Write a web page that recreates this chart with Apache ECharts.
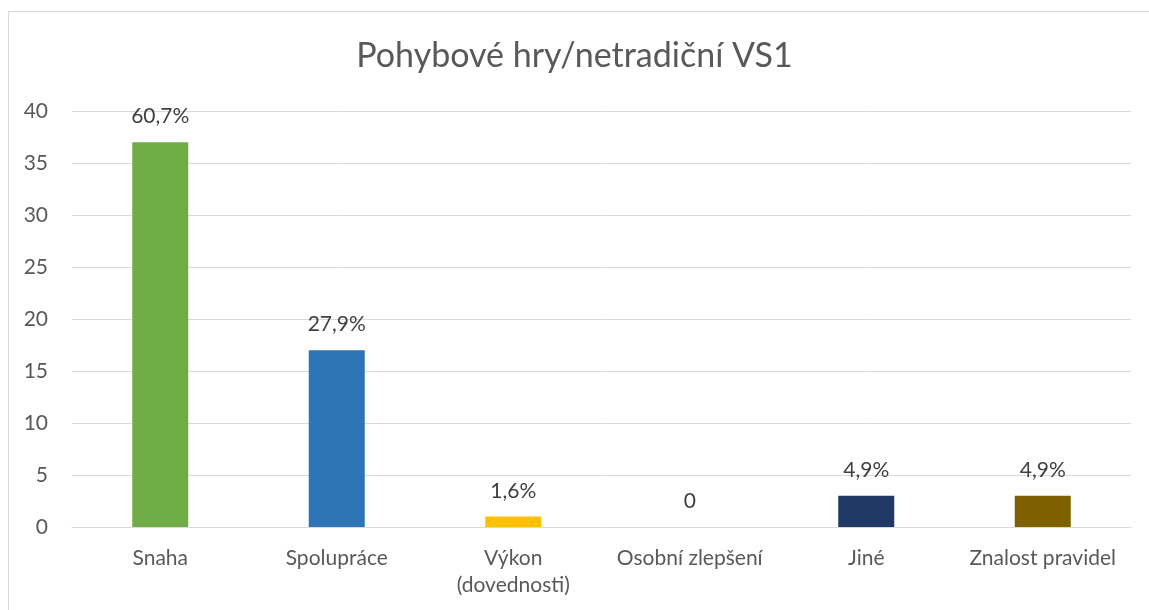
<!DOCTYPE html>
<html>
<head>
<meta charset="utf-8">
<script src="https://cdn.jsdelivr.net/npm/echarts@6/dist/echarts.min.js"></script>
<style>
  html, body { margin: 0; padding: 0; background: #fff; }
  #frame { position: absolute; left: 8px; top: 11px; width: 1160px; height: 620px; border: 1px solid #d9d9d9; box-sizing: border-box; }
  #chart { position: absolute; left: 0; top: 0; width: 1149px; height: 610px; }
</style>
</head>
<body>
<div id="frame"></div>
<div id="chart"></div>
<script>
// data
var categories = ['Snaha', 'Spolupráce', 'Výkon\n(dovednosti)', 'Osobní zlepšení', 'Jiné', 'Znalost pravidel'];
var counts = [37, 17, 1, 0, 3, 3];
var pctLabels = ['60,7%', '27,9%', '1,6%', '0', '4,9%', '4,9%'];
var barColors = ['#70AD47', '#2E75B6', '#FFC000', '#FFFFFF', '#1F3864', '#7F6000'];

document.addEventListener('DOMContentLoaded', function() {
  var myChart = echarts.init(document.getElementById('chart'));
  var font = 'Lato, "Open Sans", sans-serif';
  var option = {
    animation: false,
    title: {
      text: 'Pohybové hry/netradiční VS1',
      left: 'center',
      top: 34,
      textStyle: { fontFamily: font, fontSize: 34, fontWeight: 'normal', color: '#595959' }
    },
    grid: { left: 72, right: 18, top: 111, bottom: 83 },
    xAxis: {
      type: 'category',
      data: categories,
      axisLine: { lineStyle: { color: '#d9d9d9', width: 1 } },
      axisTick: { show: false },
      axisLabel: { fontFamily: font, fontSize: 21, color: '#595959', margin: 18, lineHeight: 27, interval: 0 }
    },
    yAxis: {
      type: 'value',
      min: 0,
      max: 40,
      interval: 5,
      axisLine: { show: false },
      axisTick: { show: false },
      splitLine: { lineStyle: { color: '#d9d9d9', width: 1 } },
      axisLabel: { fontFamily: font, fontSize: 21, color: '#595959', margin: 24 }
    },
    series: [{
      type: 'bar',
      barWidth: 56,
      data: counts.map(function(v, i) {
        return { value: v, itemStyle: { color: barColors[i] } };
      }),
      label: {
        show: true,
        position: 'top',
        distance: 15,
        fontFamily: font,
        fontSize: 21,
        color: '#404040',
        formatter: function(p) { return pctLabels[p.dataIndex]; }
      }
    }]
  };
  myChart.setOption(option);
});
</script>
</body>
</html>
